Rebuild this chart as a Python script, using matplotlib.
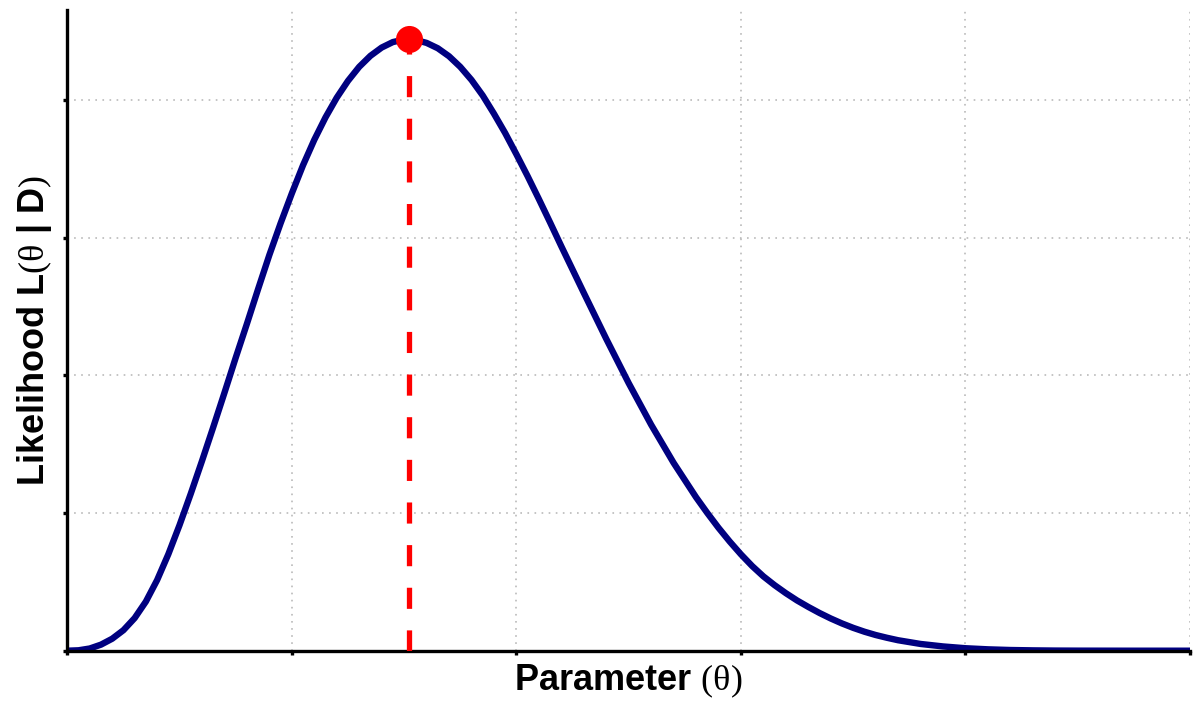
import matplotlib
matplotlib.use("Agg")
import matplotlib.pyplot as plt

# ---- data (x in 0..10, y in grid units) ----
theta = [0.0, 0.1, 0.2, 0.3, 0.4, 0.5, 0.6, 0.7, 0.8, 0.9,
         1.0, 1.1, 1.2, 1.3, 1.4, 1.5, 1.6, 1.7, 1.8, 1.9,
         2.0, 2.1, 2.2, 2.3, 2.4, 2.5, 2.6, 2.7, 2.8, 2.9,
         3.0, 3.04, 3.1, 3.2, 3.3, 3.4, 3.5, 3.6, 3.7, 3.8,
         3.9, 4.0, 4.1, 4.2, 4.3, 4.4, 4.6, 4.8, 5.0, 5.2,
         5.4, 5.6, 5.7, 5.8, 5.9, 6.0, 6.1, 6.2, 6.3, 6.4,
         6.5, 6.6, 6.7, 6.8, 6.9, 7.0, 7.1, 7.2, 7.3, 7.4,
         7.6, 7.8, 8.0, 8.2, 8.4, 8.6, 8.8, 9.0, 9.5, 10.0]
likelihood = [0.000, 0.003, 0.016, 0.044, 0.087, 0.149, 0.237, 0.357, 0.513, 0.701,
              0.913, 1.141, 1.379, 1.624, 1.874, 2.128, 2.375, 2.628, 2.875, 3.105,
              3.322, 3.527, 3.711, 3.874, 4.017, 4.139, 4.241, 4.321, 4.381, 4.421,
              4.439, 4.441, 4.437, 4.415, 4.376, 4.318, 4.241, 4.146, 4.033, 3.901,
              3.760, 3.606, 3.447, 3.281, 3.111, 2.938, 2.600, 2.266, 1.944, 1.642,
              1.365, 1.115, 1.001, 0.893, 0.793, 0.700, 0.615, 0.540, 0.476, 0.418,
              0.365, 0.318, 0.274, 0.234, 0.198, 0.166, 0.138, 0.114, 0.094, 0.076,
              0.049, 0.031, 0.018, 0.010, 0.005, 0.0025, 0.001, 0.0004, 0.0, 0.0]
theta_mle = 3.04
likelihood_max = 4.441
x_ticks = [0, 2, 4, 6, 8, 10]
y_ticks = [0, 1, 2, 3, 4]
x_label = r"Parameter $(\mathrm{\theta})$"
y_label = r"Likelihood L$(\mathrm{\theta}$ | D$)$"

plt.rcParams["lines.scale_dashes"] = False
plt.rcParams["mathtext.fontset"] = "custom"
plt.rcParams["mathtext.rm"] = "Liberation Serif"
plt.rcParams["mathtext.it"] = "Liberation Serif:italic"
plt.rcParams["mathtext.bf"] = "Liberation Serif:bold"

W, H = 1200, 720
fig = plt.figure(figsize=(12, 7.2), dpi=100)
left, right, bottom, top = 67.3, 1190.0, 650.7, 10.0
ax = fig.add_axes([left / W, 1 - bottom / H, (right - left) / W, (bottom - top) / H])

ax.plot(theta, likelihood, color="#000080", lw=4.6, solid_joinstyle="round",
        solid_capstyle="round", zorder=2)
ax.plot([theta_mle, theta_mle], [0, likelihood_max], color="red", lw=3.8,
        linestyle=(0, (15.2, 15.5)), dash_capstyle="butt", zorder=3)
ax.plot([theta_mle], [likelihood_max], marker="o", color="red", markersize=19.5,
        markeredgewidth=0, zorder=4, clip_on=False)

ax.set_xlim(0, 10)
ax.set_ylim(0, (bottom - top) / 137.67)
ax.set_xticks(x_ticks)
ax.set_yticks(y_ticks)
ax.set_xticklabels([])
ax.set_yticklabels([])
ax.grid(True, color="#b4b4b4", lw=1.1, linestyle=(0, (1.2, 3.9)), zorder=0)
ax.set_axisbelow(True)

for s in ("top", "right"):
    ax.spines[s].set_visible(False)
for s in ("left", "bottom"):
    ax.spines[s].set_linewidth(2.4)
    ax.spines[s].set_color("black")
ax.tick_params(direction="out", length=3, width=2.4, color="black")

ax.set_xlabel(x_label, fontsize=26, fontweight="bold", family="Liberation Sans")
ax.set_ylabel(y_label, fontsize=26, fontweight="bold", family="Liberation Sans")
ax.xaxis.set_label_coords(0.5, -0.019)
ax.yaxis.set_label_coords(-0.012, 0.5)

fig.savefig("out.png", dpi=100, facecolor="white")
